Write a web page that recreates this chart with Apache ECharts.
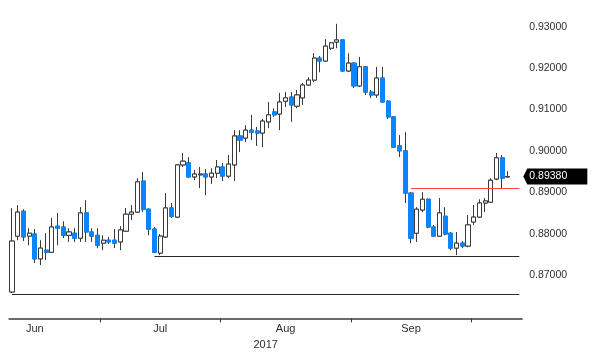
<!DOCTYPE html>
<html><head><meta charset="utf-8">
<script src="https://cdn.jsdelivr.net/npm/echarts@6/dist/echarts.min.js"></script>
<style>html,body{margin:0;padding:0;background:#fff}#c{width:600px;height:360px}</style>
</head><body><div id="c"></div>
<script>
const dates = [
'2017-06-09','2017-06-12','2017-06-13','2017-06-14','2017-06-15','2017-06-16','2017-06-19','2017-06-20','2017-06-21','2017-06-22','2017-06-23','2017-06-26','2017-06-27','2017-06-28','2017-06-29','2017-06-30',
'2017-07-03','2017-07-04','2017-07-05','2017-07-06','2017-07-07','2017-07-10','2017-07-11','2017-07-12','2017-07-13','2017-07-14','2017-07-17','2017-07-18','2017-07-19','2017-07-20','2017-07-21','2017-07-24','2017-07-25','2017-07-26','2017-07-27','2017-07-28','2017-07-31',
'2017-08-01','2017-08-02','2017-08-03','2017-08-04','2017-08-07','2017-08-08','2017-08-09','2017-08-10','2017-08-11','2017-08-14','2017-08-15','2017-08-16','2017-08-17','2017-08-18','2017-08-21','2017-08-22','2017-08-23','2017-08-24','2017-08-25','2017-08-28','2017-08-29','2017-08-30','2017-08-31',
'2017-09-01','2017-09-04','2017-09-05','2017-09-06','2017-09-07','2017-09-08','2017-09-11','2017-09-12','2017-09-13','2017-09-14','2017-09-15','2017-09-18','2017-09-19','2017-09-20','2017-09-21','2017-09-22','2017-09-25','2017-09-26','2017-09-27','2017-09-28','2017-09-29',
'2017-10-02','2017-10-03','2017-10-04','2017-10-05','2017-10-06','2017-10-09','2017-10-10','2017-10-11','2017-10-12'];

const openV = [0.8659,0.8794,0.8854,0.8794,0.8799,0.8739,0.8760,0.8755,0.8818,0.8816,
0.8796,0.8801,0.8789,0.8850,0.8804,0.8796,0.8777,0.8784,0.8784,0.8780,
0.8806,0.8847,0.8852,0.8927,0.8859,0.8811,0.8753,0.8792,0.8862,0.8840,
0.8966,0.8971,0.8937,0.8942,0.8944,0.8937,0.8946,0.8961,0.8939,0.8966,
0.9036,0.9031,0.9050,0.9048,0.9043,0.9070,0.9094,0.9089,0.9120,0.9130,
0.9108,0.9128,0.9159,0.9171,0.9224,0.9217,0.9248,0.9263,0.9268,0.9193,
0.9212,0.9157,0.9203,0.9142,0.9135,0.9176,0.9120,0.9082,0.9012,0.9000,
0.8898,0.8801,0.8857,0.8883,0.8816,0.8794,0.8842,0.8801,0.8765,0.8777,
0.8770,0.8828,0.8840,0.8874,0.8876,0.8932,0.8983,0.8937];

const highV = [0.8862,0.8869,0.8859,0.8813,0.8811,0.8784,0.8801,0.8838,0.8850,0.8830,
0.8813,0.8813,0.8864,0.8881,0.8813,0.8813,0.8796,0.8792,0.8811,0.8818,
0.8862,0.8869,0.8934,0.8949,0.8861,0.8816,0.8799,0.8898,0.8874,0.8968,
0.8995,0.8985,0.8954,0.8961,0.8956,0.8958,0.8978,0.8971,0.8990,0.9050,
0.9050,0.9062,0.9087,0.9058,0.9077,0.9118,0.9103,0.9140,0.9142,0.9142,
0.9147,0.9164,0.9178,0.9236,0.9229,0.9270,0.9263,0.9307,0.9270,0.9236,
0.9214,0.9227,0.9205,0.9147,0.9203,0.9203,0.9123,0.9084,0.9038,0.9045,
0.8900,0.8864,0.8900,0.8885,0.8821,0.8886,0.8864,0.8804,0.8804,0.8782,
0.8845,0.8869,0.8883,0.8886,0.8934,0.8995,0.8990,0.8951];

const lowV = [0.8657,0.8784,0.8782,0.8772,0.8729,0.8724,0.8736,0.8753,0.8772,0.8789,
0.8780,0.8780,0.8780,0.8780,0.8780,0.8765,0.8760,0.8775,0.8765,0.8760,
0.8804,0.8833,0.8850,0.8852,0.8796,0.8753,0.8748,0.8790,0.8838,0.8838,
0.8961,0.8935,0.8929,0.8910,0.8893,0.8920,0.8934,0.8927,0.8934,0.8927,
0.8997,0.9021,0.9026,0.9012,0.9009,0.9055,0.9082,0.9050,0.9106,0.9070,
0.9103,0.9111,0.9157,0.9166,0.9190,0.9215,0.9244,0.9248,0.9191,0.9190,
0.9152,0.9154,0.9135,0.9128,0.9128,0.9116,0.9077,0.9007,0.8985,0.8874,
0.8777,0.8780,0.8852,0.8813,0.8792,0.8792,0.8796,0.8760,0.8748,0.8765,
0.8767,0.8821,0.8838,0.8852,0.8874,0.8929,0.8910,0.8936];

const closeV = [0.8782,0.8852,0.8792,0.8801,0.8739,0.8765,0.8755,0.8816,0.8813,0.8796,
0.8804,0.8789,0.8850,0.8804,0.8794,0.8772,0.8784,0.8780,0.8777,0.8809,
0.8847,0.8852,0.8925,0.8859,0.8811,0.8755,0.8794,0.8862,0.8842,0.8966,
0.8975,0.8937,0.8944,0.8944,0.8937,0.8946,0.8961,0.8939,0.8968,0.9036,
0.9026,0.9050,0.9045,0.9043,0.9072,0.9087,0.9087,0.9118,0.9128,0.9111,
0.9135,0.9159,0.9171,0.9224,0.9217,0.9253,0.9261,0.9268,0.9193,0.9212,
0.9157,0.9203,0.9142,0.9135,0.9176,0.9118,0.9082,0.9009,0.9000,0.8898,
0.8789,0.8859,0.8883,0.8816,0.8794,0.8850,0.8799,0.8765,0.8777,0.8770,
0.8821,0.8840,0.8874,0.8879,0.8929,0.8983,0.8934,0.8938];

const monthLabels = {'2017-06-15':'Jun','2017-07-17':'Jul','2017-08-16':'Aug','2017-09-15':'Sep'};
const yearLabel = '2017';
const levelValues = [0.8746, 0.8654, 0.8909];
const levelStarts = ['2017-07-14', '2017-06-09', '2017-09-15'];
const yMin = 0.86, yMax = 0.935, yStep = 0.01;

const FONT = 'Liberation Sans';
const TXT = '#2e2e2e';
const BLUE = '#0a84ff';
const DARK = '#3a3a3a';

const n = dates.length;
const ohlc = openV.map((o, i) => [o, closeV[i], lowV[i], highV[i]]);
const bodies = openV.map((o, i) => [o, closeV[i], Math.min(o, closeV[i]), Math.max(o, closeV[i])]);
const tickPos = [];
for (let i = 1; i < n; i++) if (dates[i].slice(5, 7) !== dates[i - 1].slice(5, 7)) tickPos.push(i - 0.5);
const labelPos = [];
dates.forEach((d, i) => { if (monthLabels[d]) labelPos.push(i); });
const lastCat = dates[n - 1];
const lastClose = closeV[closeV.length - 1];
const levelColors = ['#2a2a2a', '#2a2a2a', '#ff4040'];
const levelWidths = [1.2, 1.2, 1.2];

const chart = echarts.init(document.getElementById('c'), null, {renderer: 'canvas'});
chart.setOption({
  animation: false,
  backgroundColor: '#ffffff',
  textStyle: {fontFamily: FONT},
  grid: {left: 9.15, right: 77.85, top: 6, bottom: 43.6},
  xAxis: [
    {type: 'category', data: dates, boundaryGap: true,
     axisLine: {show: false}, axisTick: {show: false}, axisLabel: {show: false}, splitLine: {show: false}},
    {type: 'value', min: -0.5, max: n - 0.5, position: 'bottom', offset: 2,
     splitLine: {show: false},
     axisLine: {show: true, onZero: false, lineStyle: {color: DARK, width: 1.5}},
     axisTick: {show: true, customValues: tickPos, length: 4, inside: false, lineStyle: {color: DARK, width: 1}},
     axisLabel: {show: true, customValues: labelPos, margin: 5, color: TXT, fontSize: 11, fontFamily: FONT,
       formatter: v => monthLabels[dates[Math.round(v)]] || ''},
     name: yearLabel, nameLocation: 'middle', nameGap: 20,
     nameTextStyle: {color: TXT, fontSize: 11, fontFamily: FONT}}
  ],
  yAxis: {type: 'value', position: 'right', min: yMin, max: yMax, interval: yStep,
    axisLine: {show: false}, axisTick: {show: false}, splitLine: {show: false},
    axisLabel: {margin: 7, color: TXT, fontSize: 10.5, fontFamily: FONT,
      formatter: v => (v < 0.8695 || v > 0.9305) ? '' : v.toFixed(5)}},
  series: [
    {type: 'candlestick', name: 'wicks', xAxisIndex: 0, data: ohlc, barWidth: 4.6,
     itemStyle: {color: 'rgba(0,0,0,0)', color0: 'rgba(0,0,0,0)', borderColor: DARK, borderColor0: DARK, borderWidth: 1}},
    {type: 'candlestick', name: 'bodies', xAxisIndex: 0, data: bodies, barWidth: 4.6,
     itemStyle: {color: '#ffffff', color0: BLUE, borderColor: DARK, borderColor0: BLUE, borderWidth: 1},
     markLine: {silent: true, symbol: ['none', 'none'], animation: false, label: {show: false},
       data: levelValues.map((v, k) => [
         {coord: [levelStarts[k], v], lineStyle: {color: levelColors[k], width: levelWidths[k], type: 'solid'}},
         {coord: [lastCat, v]}
       ])},
     markPoint: {silent: true, animation: false,
       symbol: 'path://M0,8 L4,0 L64,0 L64,16 L4,16 Z', symbolSize: [64, 16], symbolOffset: [36, 0],
       itemStyle: {color: '#000000'},
       label: {show: true, position: 'insideLeft', distance: 6, color: '#ffffff', fontSize: 10.5, fontFamily: FONT,
         formatter: () => lastClose.toFixed(5)},
       data: [{coord: [lastCat, lastClose]}]}
    }
  ]
});
</script>
</body></html>
